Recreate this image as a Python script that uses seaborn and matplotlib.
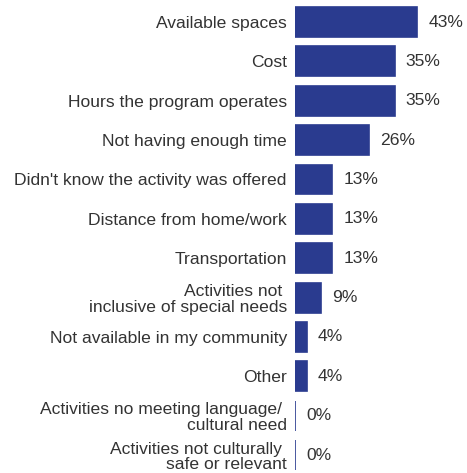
import matplotlib
matplotlib.use('Agg')
import matplotlib.pyplot as plt
import seaborn as sns

# barriers to participation, share of respondents (%)
categories = ['Available spaces', 'Cost', 'Hours the program operates',
              'Not having enough time', "Didn't know the activity was offered",
              'Distance from home/work', 'Transportation',
              'Activities not \ninclusive of special needs',
              'Not available in my community', 'Other',
              'Activities no meeting language/ \ncultural need',
              'Activities not culturally \nsafe or relevant']
values = [43, 35, 35, 26, 13, 13, 13, 9, 4, 4, 0, 0]
value_labels = [str(v) + '%' for v in values]

bar_color = '#2a3b8f'
text_color = '#333333'

sns.set_style('white')
plt.rcParams['font.family'] = ['Liberation Sans', 'DejaVu Sans']

fig = plt.figure(figsize=(4.67, 4.73), dpi=100)
ax = fig.add_axes([0.632, -0.0036, 0.368, 0.9987])

sns.barplot(x=values, y=categories, orient='h', color=bar_color, saturation=1,
            width=0.76, edgecolor=bar_color, linewidth=1.2, ax=ax)

ax.set_xlim(0, 60.5)
ax.set_xlabel('')
ax.set_ylabel('')
ax.set_xticks([])
sns.despine(ax=ax, left=True, bottom=True)
ax.tick_params(axis='y', length=0, pad=6, labelsize=12.6, labelcolor=text_color)
for lab in ax.get_yticklabels():
    lab.set_linespacing(1.05)

ax.bar_label(ax.containers[0], labels=value_labels, padding=8,
             fontsize=12.6, color=text_color)

fig.savefig('out.png', dpi=100)
